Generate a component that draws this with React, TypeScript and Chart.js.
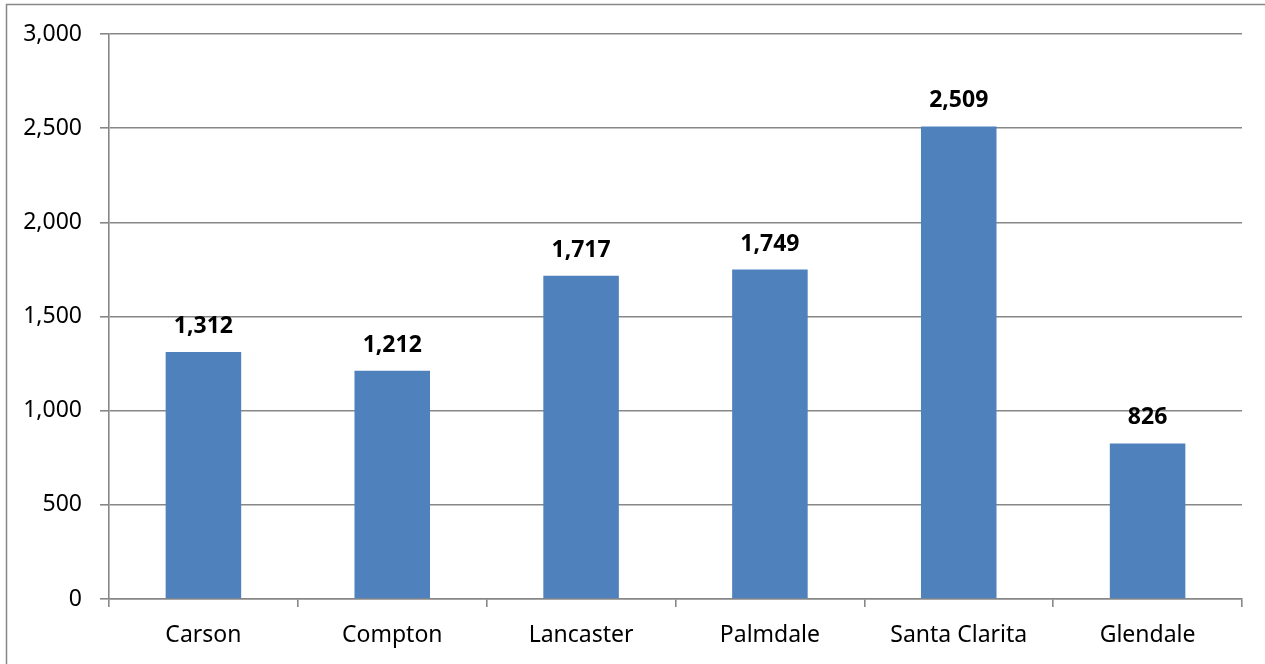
import React, { useEffect, useRef } from "react";
import { Chart, registerables } from "chart.js";

Chart.register(...registerables);

const cities = ["Carson", "Compton", "Lancaster", "Palmdale", "Santa Clarita", "Glendale"];
const counts = [1312, 1212, 1717, 1749, 2509, 826];
const yMax = 3000;
const yStep = 500;

const FONT = "'Noto Sans', 'DejaVu Sans', sans-serif";
const GRID = "#878787";
const BAR = "#4f81bd";

const fmt = (v: number) => v.toLocaleString("en-US");

// Outer frame around the chart (top and left edges visible)
const framePlugin = {
  id: "frame",
  beforeDraw(chart: Chart) {
    const ctx = chart.ctx;
    ctx.save();
    ctx.strokeStyle = GRID;
    ctx.lineWidth = 1.5;
    ctx.beginPath();
    ctx.moveTo(6.5, chart.height);
    ctx.lineTo(6.5, 4.5);
    ctx.lineTo(chart.width, 4.5);
    ctx.stroke();
    ctx.restore();
  },
};

// Bold value labels above each bar
const valueLabels = {
  id: "valueLabels",
  afterDatasetsDraw(chart: Chart) {
    const ctx = chart.ctx;
    const meta = chart.getDatasetMeta(0);
    ctx.save();
    ctx.font = `bold 23px ${FONT}`;
    ctx.fillStyle = "#000";
    ctx.textAlign = "center";
    ctx.textBaseline = "alphabetic";
    meta.data.forEach((bar: any, i: number) => {
      ctx.fillText(fmt(counts[i]), bar.x, bar.y - 19);
    });
    ctx.restore();
  },
};

export default function App() {
  const ref = useRef<HTMLCanvasElement | null>(null);

  useEffect(() => {
    if (!ref.current) return;
    const chart = new Chart(ref.current, {
      type: "bar",
      data: {
        labels: cities,
        datasets: [
          {
            data: counts,
            backgroundColor: BAR,
            borderWidth: 0,
            categoryPercentage: 1,
            barPercentage: 0.4,
          },
        ],
      },
      options: {
        animation: false,
        responsive: true,
        maintainAspectRatio: false,
        layout: { padding: { top: 34, right: 23, bottom: 0, left: 0 } },
        plugins: {
          legend: { display: false },
          tooltip: { enabled: false },
        },
        scales: {
          x: {
            offset: true,
            grid: {
              offset: true,
              drawOnChartArea: false,
              drawTicks: true,
              tickLength: 8,
              color: GRID,
              lineWidth: 1.6,
            },
            border: { display: true, color: GRID, width: 1.6 },
            ticks: {
              color: "#000",
              padding: 15,
              font: { family: FONT, size: 23 },
              maxRotation: 0,
              autoSkip: false,
            },
            afterFit(scale: any) {
              scale.height = 65;
            },
          },
          y: {
            min: 0,
            max: yMax,
            grid: {
              color: GRID,
              lineWidth: 1.6,
              drawTicks: true,
              tickLength: 9,
            },
            border: { display: true, color: GRID, width: 1.6 },
            ticks: {
              stepSize: yStep,
              color: "#000",
              padding: 18,
              font: { family: FONT, size: 23 },
              callback: (v: any) => fmt(Number(v)),
            },
            afterFit(scale: any) {
              scale.width = 109;
            },
          },
        },
      },
      plugins: [framePlugin, valueLabels],
    });
    return () => chart.destroy();
  }, []);

  return (
    <div style={{ position: "absolute", left: 0, top: 0, width: 1265, height: 664, background: "#fff" }}>
      <canvas ref={ref} />
    </div>
  );
}
